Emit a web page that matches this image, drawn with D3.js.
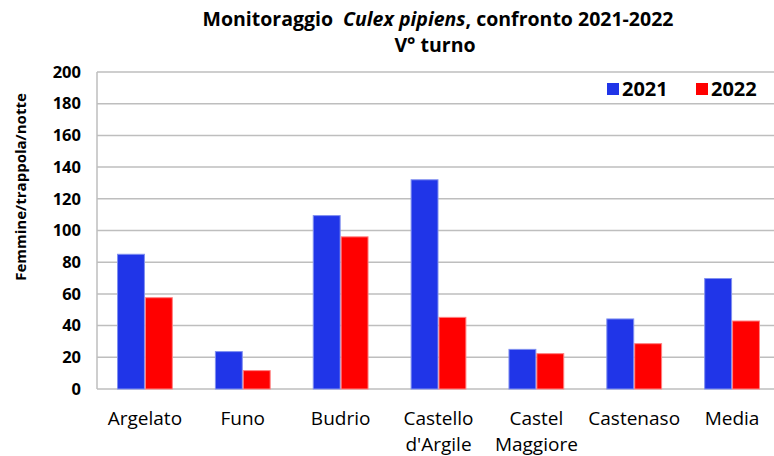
<!DOCTYPE html>
<html>
<head>
<meta charset="utf-8">
<script src="https://cdn.jsdelivr.net/npm/d3@7"></script>
<style>
  body { margin: 0; background: #fff; }
  svg { display: block; font-family: "Open Sans", sans-serif; }
</style>
</head>
<body>
<div id="chart"></div>
<script>
// Data
const categories = ["Argelato", "Funo", "Budrio", "Castello\nd'Argile", "Castel\nMaggiore", "Castenaso", "Media"];
const years = ["2021", "2022"];
const values2021 = [85, 23.6, 109.4, 132, 25, 44.2, 69.7];
const values2022 = [57.6, 11.6, 96, 45.2, 22.3, 28.6, 42.9];
const yTicks = [0, 20, 40, 60, 80, 100, 120, 140, 160, 180, 200];

const width = 774, height = 456;
const colors = { "2021": "#2035E8", "2022": "#FF0000" };
const edges = { "2021": "#8090F0", "2022": "#FF8080" };

const svg = d3.select("#chart").append("svg")
    .attr("width", width)
    .attr("height", height);

// Scales
const x0 = d3.scaleBand().domain(categories).range([96, 781]).paddingInner(0.43).paddingOuter(0.215);
const x1 = d3.scaleBand().domain(years).range([0, x0.bandwidth()]);
const y = d3.scaleLinear().domain([0, 200]).range([389, 72]);

// Gridlines
svg.append("g").selectAll("line")
    .data(yTicks)
    .enter().append("line")
    .attr("x1", 97).attr("x2", width)
    .attr("y1", d => y(d)).attr("y2", d => y(d))
    .attr("stroke", "#BEBEBE")
    .attr("stroke-width", 1.5);

// Left axis line
svg.append("line")
    .attr("x1", 97).attr("x2", 97)
    .attr("y1", y(200)).attr("y2", y(0))
    .attr("stroke", "#BEBEBE")
    .attr("stroke-width", 1.5);

// Y tick labels
const yAxis = svg.append("g")
    .attr("transform", "translate(81,0)")
    .call(d3.axisLeft(y).tickValues(yTicks).tickSize(0).tickPadding(0));
yAxis.select(".domain").remove();
yAxis.selectAll("text")
    .attr("font-family", "'Open Sans', sans-serif")
    .attr("font-size", 16.5)
    .attr("font-weight", "bold")
    .attr("fill", "#000");

// Bars
const rows = categories.map((c, i) => ({ cat: c, vals: [
    { year: "2021", v: values2021[i] },
    { year: "2022", v: values2022[i] }
]}));

const groups = svg.append("g").selectAll("g")
    .data(rows)
    .enter().append("g")
    .attr("transform", d => `translate(${x0(d.cat)},0)`);

groups.selectAll("rect")
    .data(d => d.vals)
    .enter().append("rect")
    .attr("x", d => x1(d.year) + 0.5)
    .attr("y", d => y(d.v))
    .attr("width", x1.bandwidth() - 1)
    .attr("height", d => y(0) - y(d.v))
    .attr("fill", d => colors[d.year])
    .attr("stroke", d => edges[d.year])
    .attr("stroke-width", 1);

// X category labels
const xLabels = svg.append("g").selectAll("text")
    .data(categories)
    .enter().append("text")
    .attr("x", d => x0(d) + x0.bandwidth() / 2)
    .attr("y", 425)
    .attr("text-anchor", "middle")
    .attr("font-size", 19)
    .attr("fill", "#000");
xLabels.each(function(d) {
    const lines = d.split("\n");
    lines.forEach((l, i) => {
        d3.select(this).append("tspan")
            .attr("x", x0(d) + x0.bandwidth() / 2)
            .attr("dy", i === 0 ? 0 : 26)
            .text(l);
    });
});

// Y axis title
svg.append("text")
    .attr("transform", "translate(26,187) rotate(-90)")
    .attr("text-anchor", "middle")
    .attr("font-size", 15)
    .attr("font-weight", "bold")
    .text("Femmine/trappola/notte");

// Title
const title = svg.append("text")
    .attr("x", 438).attr("y", 26)
    .attr("text-anchor", "middle")
    .attr("font-size", 19.5)
    .attr("font-weight", "bold");
title.append("tspan").text("Monitoraggio\u00A0\u00A0");
title.append("tspan").attr("font-style", "italic").text("Culex pipiens");
title.append("tspan").text(", confronto 2021-2022");

svg.append("text")
    .attr("x", 435).attr("y", 52)
    .attr("text-anchor", "middle")
    .attr("font-size", 19.5)
    .attr("font-weight", "bold")
    .text("V° turno");

// Legend
const legendX = [607, 696];
const legend = svg.append("g").selectAll("g")
    .data(years)
    .enter().append("g")
    .attr("transform", (d, i) => `translate(${legendX[i]},83)`);
legend.append("rect")
    .attr("width", 12).attr("height", 12)
    .attr("fill", d => colors[d]);
legend.append("text")
    .attr("x", 15).attr("y", 13)
    .attr("font-size", 20)
    .attr("font-weight", "bold")
    .text(d => d);
</script>
</body>
</html>
